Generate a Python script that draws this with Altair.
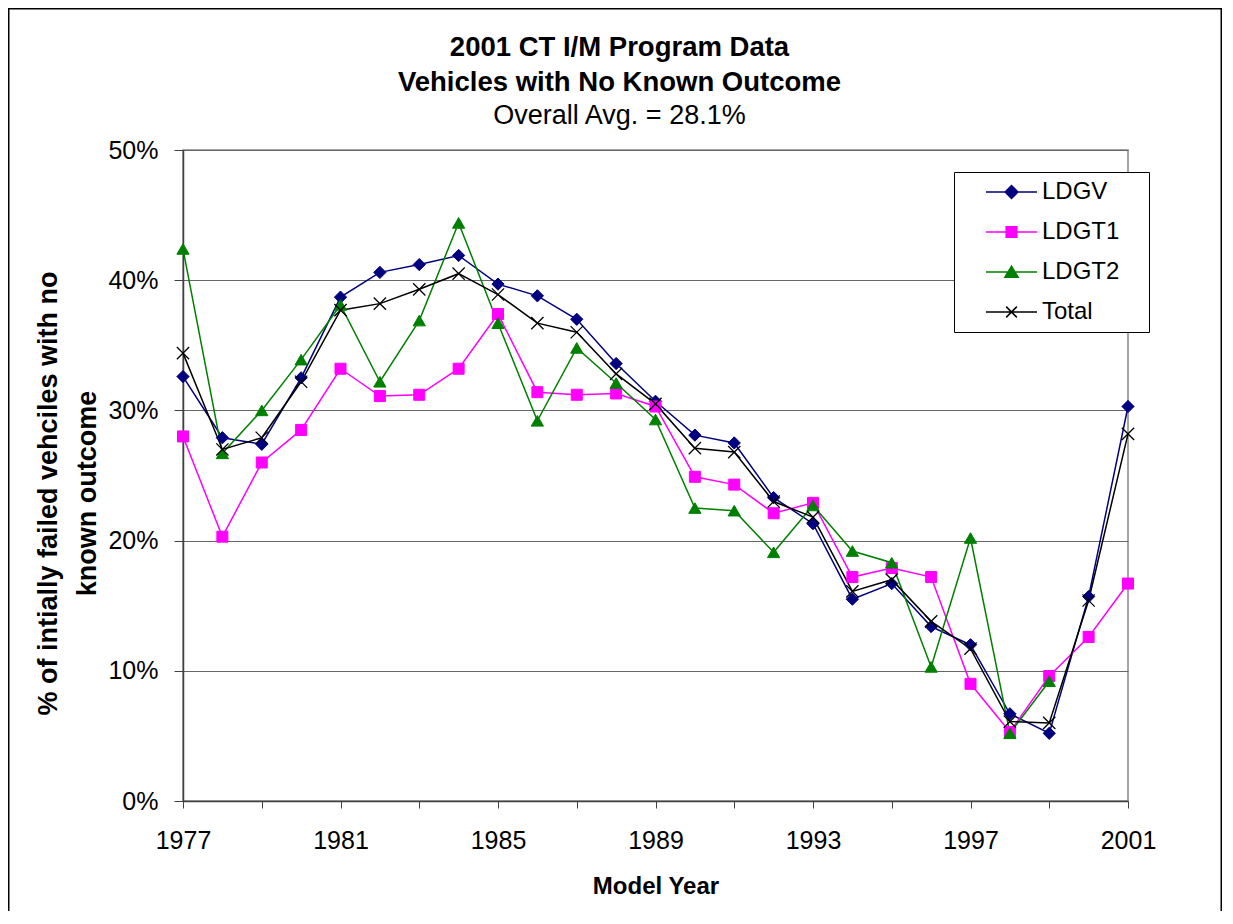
import altair as alt
import pandas as pd

# ---- data ----
years = list(range(1977, 2002))
label_years = list(range(1977, 2002, 4))
series_names = ["LDGV", "LDGT1", "LDGT2", "Total"]

ldgv = [32.6, 27.9, 27.4, 32.5, 38.7, 40.6, 41.2, 41.9, 39.7, 38.8, 37.0, 33.6, 30.7,
        28.1, 27.5, 23.3, 21.3, 15.5, 16.7, 13.4, 12.0, 6.7, 5.2, 15.7, 30.3]
ldgt1 = [28.0, 20.3, 26.0, 28.5, 33.2, 31.1, 31.2, 33.2, 37.4, 31.4, 31.2, 31.3, 30.3,
         24.9, 24.3, 22.1, 22.9, 17.2, 17.9, 17.2, 9.0, 5.3, 9.6, 12.6, 16.7]
ldgt2 = [42.4, 26.7, 30.0, 33.9, 38.1, 32.2, 36.9, 44.4, 36.7, 29.2, 34.8, 32.1, 29.3,
         22.5, 22.3, 19.1, 22.7, 19.2, 18.3, 10.3, 20.2, 5.2, 9.2, None, None]
total = [34.4, 27.0, 27.9, 32.2, 37.7, 38.2, 39.3, 40.5, 38.9, 36.7, 36.0, 32.8, 30.5,
         27.1, 26.8, 23.0, 21.8, 16.1, 17.0, 13.8, 11.7, 6.1, 6.0, 15.4, 28.2]
y_ticks = [0, 0.1, 0.2, 0.3, 0.4, 0.5]

# ---- styling ----
series_colors = ["#000080", "#FF00FF", "#008000", "#000000"]
marker_shapes = ["diamond", "square", "triangle-up", "M-1,-1L1,1M-1,1L1,-1"]
marker_sizes = [150, 121, 150, 150]
marker_filled = [True, True, True, False]
legend_paths = [
    "M-1,0L1,0M0,-0.25L0.25,0L0,0.25L-0.25,0Z",
    "M-1,0L1,0M-0.21,-0.21L0.21,-0.21L0.21,0.21L-0.21,0.21Z",
    "M-1,0L1,0M0,-0.23L0.26,0.21L-0.26,0.21Z",
    "M-1,0L1,0M-0.21,-0.21L0.21,0.21M-0.21,0.21L0.21,-0.21",
]
FONT = "Liberation Sans"

rows = []
for name, vals in zip(series_names, [ldgv, ldgt1, ldgt2, total]):
    for yr, v in zip(years, vals):
        if v is not None:
            rows.append({"year": yr, "series": name, "value": v / 100.0})
df = pd.DataFrame(rows)

W, H = 945, 651
PAD = {"left": 175, "top": 142, "right": 94, "bottom": 110}

x_enc = alt.X(
    "year:Q",
    scale=alt.Scale(domain=[years[0], years[-1]], nice=False, zero=False),
    axis=alt.Axis(
        values=years,
        labelExpr="indexof(" + str(label_years) + ", datum.value) >= 0 ? datum.label : ''",
        format="d",
        grid=False,
        tickSize=7,
        labelPadding=20,
        labelFontSize=25,
        labelFlush=False,
        labelOverlap=False,
        title="Model Year",
        titleFontSize=24,
        titleFontWeight="bold",
        titleBaseline="top",
        titleY=73,
    ),
)
y_enc = alt.Y(
    "value:Q",
    scale=alt.Scale(domain=[0, 0.5], nice=False),
    axis=alt.Axis(
        values=y_ticks,
        format=".0%",
        tickSize=9,
        labelPadding=16,
        labelFontSize=25,
        title=["% of intially failed vehciles with no", "known outcome"],
        titleFontSize=27,
        titleFontWeight="bold",
        titleAngle=270,
        titleAlign="center",
        titleBaseline="top",
        titleX=-148,
        titleY=343,
        titleLineHeight=39,
    ),
)

color_scale = alt.Scale(domain=series_names, range=series_colors)

lines = alt.Chart(df).mark_line(strokeWidth=1.5).encode(
    x=x_enc,
    y=y_enc,
    color=alt.Color("series:N", scale=color_scale, legend=None),
)

point_layers = []
for name, col, shp, sz, fl in zip(series_names, series_colors, marker_shapes, marker_sizes, marker_filled):
    if fl:
        mk = alt.Chart(df).mark_point(filled=True, shape=shp, size=sz, color=col,
                                      stroke=col, strokeWidth=1, opacity=1)
    else:
        mk = alt.Chart(df).mark_point(filled=False, shape=shp, size=sz, color=col,
                                      strokeWidth=1.3, opacity=1)
    point_layers.append(
        mk.encode(x="year:Q", y="value:Q").transform_filter(alt.datum.series == name)
    )

# trailing non-breaking spaces closed by a zero-width char so the label width is kept
label_pad = "\u00a0" * 4 + "\u200b"

legend_props = dict(
    title=None,
    orient="none",
    legendX=771,
    legendY=22,
    direction="vertical",
    padding=2,
    symbolSize=2601,
    symbolOffset=29,
    labelOffset=4,
    clipHeight=36,
    rowPadding=4,
    labelFontSize=24,
    labelFont=FONT,
    labelColor="black",
    strokeColor="black",
    fillColor="white",
    symbolOpacity=1,
    symbolStrokeWidth=1.5,
    labelExpr="datum.label + '" + label_pad + "'",
)

# legend-only layer: invisible points (opacity 0); its legend symbols are line + marker
legend_layer = alt.Chart(df).mark_point(filled=True, size=2601, opacity=0, strokeWidth=1.5).encode(
    x="year:Q",
    y="value:Q",
    color=alt.Color("series:N", scale=color_scale, legend=alt.Legend(**legend_props)),
    stroke=alt.Stroke("series:N", scale=alt.Scale(domain=series_names, range=series_colors),
                      legend=alt.Legend(**legend_props)),
    shape=alt.Shape("series:N", scale=alt.Scale(domain=series_names, range=legend_paths),
                    legend=alt.Legend(**legend_props)),
)

frame_df = pd.DataFrame({"d": [0]})
frame_left = alt.Chart(frame_df).mark_rule(color="black", strokeWidth=1.5).encode(
    x=alt.value(-PAD["left"] + 0.75), y=alt.value(-PAD["top"] + 0.75), y2=alt.value(H + PAD["bottom"])
)
frame_top = alt.Chart(frame_df).mark_rule(color="black", strokeWidth=1.5).encode(
    x=alt.value(-PAD["left"]), x2=alt.value(W + PAD["right"]), y=alt.value(-PAD["top"] + 0.75)
)
frame_right = alt.Chart(frame_df).mark_rule(color="black", strokeWidth=1.5).encode(
    x=alt.value(W + PAD["right"] - 0.75), y=alt.value(-PAD["top"]), y2=alt.value(H + PAD["bottom"])
)

chart = alt.layer(legend_layer, lines, *point_layers, frame_left, frame_top, frame_right).properties(
    width=W,
    height=H,
    autosize=alt.AutoSizeParams(type="none"),
    padding=PAD,
    title=alt.TitleParams(
        text=["2001 CT I/M Program Data", "Vehicles with No Known Outcome"],
        subtitle="Overall Avg. = 28.1%",
        font=FONT,
        subtitleFont=FONT,
        fontSize=27.5,
        fontWeight="bold",
        subtitleFontSize=27,
        subtitleFontWeight="normal",
        color="black",
        subtitleColor="black",
        anchor="middle",
        frame="group",
        dx=-36,
        dy=140,
        offset=18,
        lineHeight=34.5,
        subtitleLineHeight=34.5,
        subtitlePadding=7,
    ),
).configure(
    font=FONT, background="white"
).configure_axis(
    labelFont=FONT,
    titleFont=FONT,
    labelColor="black",
    titleColor="black",
    domainColor="#404040",
    domainWidth=1.5,
    tickColor="#404040",
    tickWidth=1,
    gridColor="#666666",
    gridWidth=1,
).configure_view(stroke="#888888", strokeWidth=1.5)

chart.save("out.html", embed_options={"renderer": "svg", "actions": False})
